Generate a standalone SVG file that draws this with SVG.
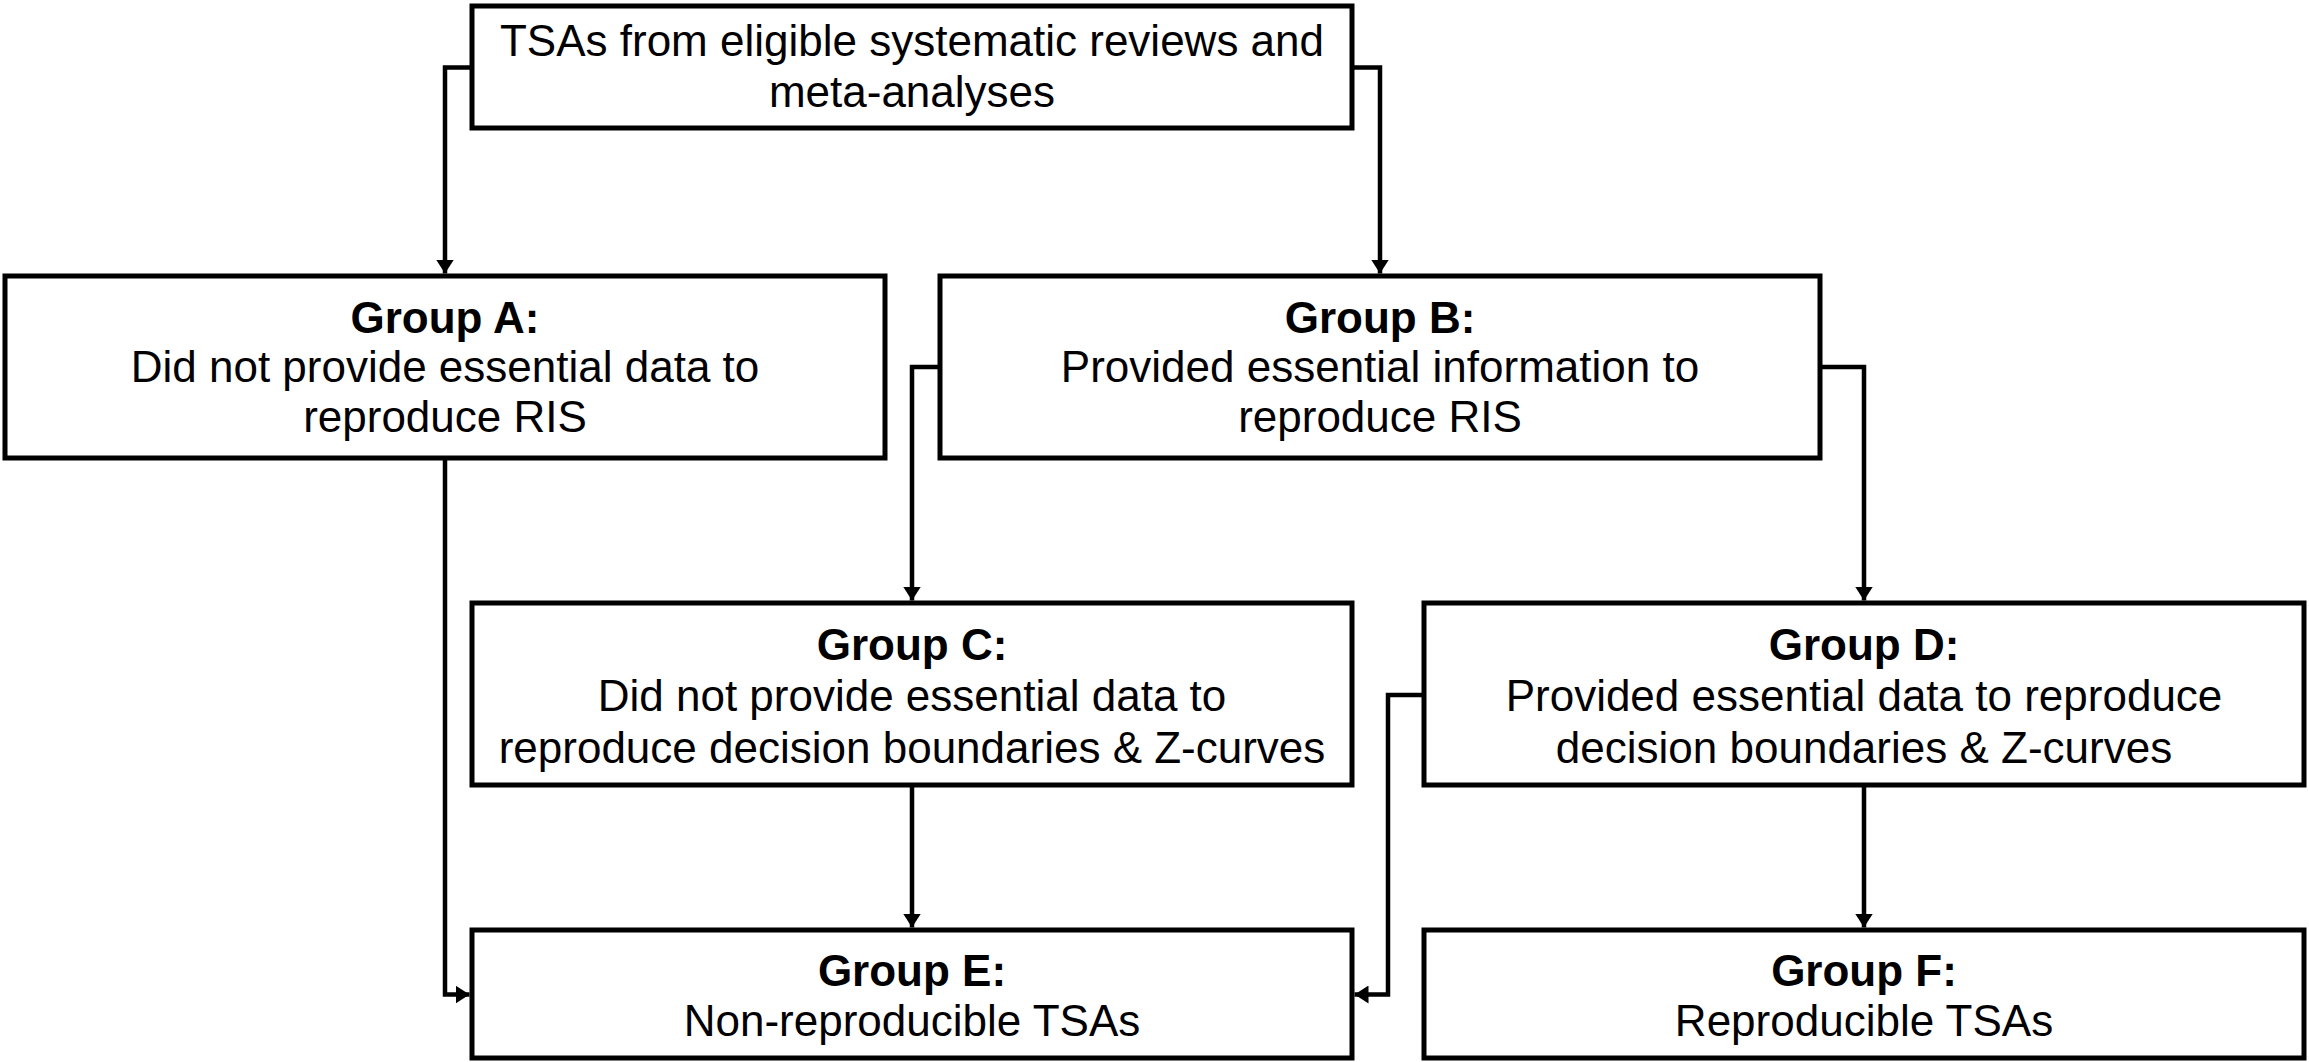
<svg xmlns="http://www.w3.org/2000/svg" width="2309" height="1062" viewBox="0 0 2309 1062">
<style>
.box{fill:#fff;stroke:#000;stroke-width:5}
.t{font-family:"Liberation Sans",Arial,sans-serif;font-size:44px;fill:#000;text-anchor:middle}
.b{font-weight:bold}
.c{fill:none;stroke:#000;stroke-width:4.5}
</style>
<defs>
<marker id="ah" markerUnits="userSpaceOnUse" viewBox="0 0 14 18" refX="14" refY="9" markerWidth="14" markerHeight="18" orient="auto">
<path d="M0,0 L14,9 L0,18 z" fill="#000"/>
</marker>
</defs>
<rect width="2309" height="1062" fill="#fff"/>
<g id="connectors">
<path class="c" d="M472,67.5 H445 V273.5" marker-end="url(#ah)"/>
<path class="c" d="M1352,67.5 H1380 V273.5" marker-end="url(#ah)"/>
<path class="c" d="M940,367 H912 V600.5" marker-end="url(#ah)"/>
<path class="c" d="M1820,367 H1864 V600.5" marker-end="url(#ah)"/>
<path class="c" d="M445,458 V994.5 H469.5" marker-end="url(#ah)"/>
<path class="c" d="M912,785 V927.5" marker-end="url(#ah)"/>
<path class="c" d="M1424,695 H1388 V994.5 H1354.5" marker-end="url(#ah)"/>
<path class="c" d="M1864,785 V927.5" marker-end="url(#ah)"/>
</g>
<g id="top">
<rect class="box" x="472" y="6" width="880" height="122"/>
<text class="t" x="912" y="56">TSAs from eligible systematic reviews and</text>
<text class="t" x="912" y="107">meta-analyses</text>
</g>
<g id="groupA">
<rect class="box" x="5" y="276" width="880" height="182"/>
<text class="t b" x="445" y="333">Group A:</text>
<text class="t" x="445" y="382">Did not provide essential data to</text>
<text class="t" x="445" y="432">reproduce RIS</text>
</g>
<g id="groupB">
<rect class="box" x="940" y="276" width="880" height="182"/>
<text class="t b" x="1380" y="333">Group B:</text>
<text class="t" x="1380" y="382">Provided essential information to</text>
<text class="t" x="1380" y="432">reproduce RIS</text>
</g>
<g id="groupC">
<rect class="box" x="472" y="603" width="880" height="182"/>
<text class="t b" x="912" y="660">Group C:</text>
<text class="t" x="912" y="711">Did not provide essential data to</text>
<text class="t" x="912" y="763">reproduce decision boundaries &amp; Z-curves</text>
</g>
<g id="groupD">
<rect class="box" x="1424" y="603" width="880" height="182"/>
<text class="t b" x="1864" y="660">Group D:</text>
<text class="t" x="1864" y="711">Provided essential data to reproduce</text>
<text class="t" x="1864" y="763">decision boundaries &amp; Z-curves</text>
</g>
<g id="groupE">
<rect class="box" x="472" y="930" width="880" height="128"/>
<text class="t b" x="912" y="986">Group E:</text>
<text class="t" x="912" y="1036">Non-reproducible TSAs</text>
</g>
<g id="groupF">
<rect class="box" x="1424" y="930" width="880" height="128"/>
<text class="t b" x="1864" y="986">Group F:</text>
<text class="t" x="1864" y="1036">Reproducible TSAs</text>
</g>
</svg>
